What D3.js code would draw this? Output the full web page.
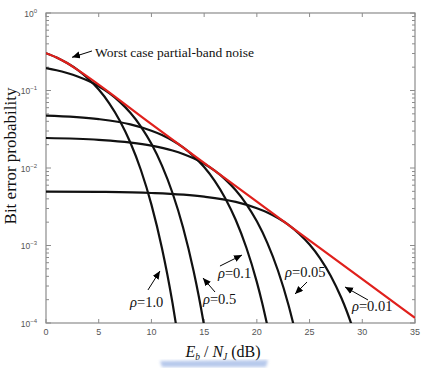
<!DOCTYPE html>
<html><head><meta charset="utf-8">
<script src="https://cdn.jsdelivr.net/npm/d3@7"></script>
<style>body{margin:0;background:#fff}svg{display:block}</style>
</head><body>
<svg id="c" width="423" height="368"></svg>
<script>
// ---- data (Eb/NJ in dB, bit error probability) ----
const xTicks = [0,5,10,15,20,25,30,35];
const yTickExps = [0,-1,-2,-3,-4];
const worstCase = [[0,0.303],[1,0.267],[2,0.226],[3,0.1845],[10,0.0368],[20,0.00368],[30,0.000368],[35,0.0001163]];
const rho10  = [[0,0.303],[1,0.267],[2,0.226],[3,0.1845],[4,0.142],[5,0.1028],[6,0.0684],[7,0.0408],[8,0.0213],[9,0.00942],[10,0.00337],[11,0.000923],[11.5,0.000428],[12,0.000181],[12.5,0.000069]];
const rho05  = [[0,0.1947],[1,0.1825],[2,0.168],[3,0.1518],[4,0.1334],[5,0.1135],[6,0.0924],[7,0.0714],[8,0.0516],[9,0.0343],[10,0.0205],[11,0.01075],[12,0.00476],[13,0.00171],[14,0.000469],[14.5,0.000218],[15,0.000092],[15.2,0.0000635]];
const rho01  = [[0,0.0475],[5,0.0427],[8,0.0365],[10,0.0303],[11,0.0267],[12,0.0226],[13,0.01845],[14,0.01423],[15,0.01028],[16,0.00683],[17,0.00408],[18,0.00213],[19,0.000942],[20,0.000337],[20.5,0.000183],[21,0.000092]];
const rho005 = [[0,0.0244],[5,0.0231],[10,0.01947],[12,0.01682],[13,0.0152],[14,0.01334],[15,0.01135],[16,0.00924],[17,0.00714],[18,0.00516],[19,0.00343],[20,0.00205],[21,0.001075],[22,0.000476],[23,0.000171],[23.5,0.0000927]];
const rho001 = [[0,0.00497],[5,0.00492],[10,0.00476],[15,0.00427],[18,0.00365],[20,0.00303],[21,0.00267],[22,0.00226],[23,0.001845],[24,0.00142],[25,0.00103],[26,0.000683],[27,0.000408],[28,0.000213],[28.5,0.000145],[29,0.000094]];
const rhoLabels = ["1.0","0.5","0.1","0.05","0.01"];
// annotation anchors in data units: [textX, textLog10Y, tailX, tailLog, headX, headLog]
const rhoAnno = [[7.97,-3.79,9.67,-3.574,10.81,-3.329],[14.89,-3.755,16.03,-3.6,14.89,-3.419],[16.31,-3.42,16.5,-3.265,18.59,-3.123],[22.67,-3.406,24.76,-3.471,23.62,-3.626],[29.02,-3.845,30.54,-3.703,28.36,-3.535]];
const worstAnno = [4.65,-0.57,4.36,-0.49,2.47,-0.572];

const svg = d3.select("#c");
const L=46, R=415, T=13, B=323;
const x = d3.scaleLinear().domain([0,35]).range([L,R]);
const y = d3.scaleLog().domain([1e-4,1]).range([B,T]);
const axisCol = "#8c8c8c";

// defs
const defs = svg.append("defs");
defs.append("clipPath").attr("id","clip").append("rect").attr("x",L).attr("y",T).attr("width",R-L).attr("height",B-T);
defs.append("marker").attr("id","ah").attr("markerUnits","userSpaceOnUse").attr("markerWidth",9).attr("markerHeight",8)
  .attr("refX",8).attr("refY",3.5).attr("orient","auto")
  .append("path").attr("d","M0,0 L8,3.5 L0,7 Z").attr("fill","#000");
defs.append("filter").attr("id","blur").append("feGaussianBlur").attr("stdDeviation",1.6);

// frame
svg.append("rect").attr("x",L).attr("y",T).attr("width",R-L).attr("height",B-T)
  .attr("fill","none").attr("stroke",axisCol).attr("stroke-width",1.2);

// ticks
const g = svg.append("g").attr("stroke",axisCol).attr("stroke-width",1);
xTicks.forEach(t=>{
  g.append("line").attr("x1",x(t)).attr("x2",x(t)).attr("y1",B).attr("y2",B-4);
  g.append("line").attr("x1",x(t)).attr("x2",x(t)).attr("y1",T).attr("y2",T+4);
});
for (let e=-4;e<0;e++){
  for (let m=2;m<=9;m++){
    const yy=y(m*Math.pow(10,e));
    g.append("line").attr("x1",L).attr("x2",L+3).attr("y1",yy).attr("y2",yy);
    g.append("line").attr("x1",R).attr("x2",R-3).attr("y1",yy).attr("y2",yy);
  }
}
yTickExps.forEach(e=>{
  const yy=y(Math.pow(10,e));
  g.append("line").attr("x1",L).attr("x2",L+5).attr("y1",yy).attr("y2",yy);
  g.append("line").attr("x1",R).attr("x2",R-5).attr("y1",yy).attr("y2",yy);
});

// tick labels
svg.append("g").selectAll("text").data(xTicks).join("text")
  .attr("x",d=>x(d)).attr("y",B+12).attr("text-anchor","middle")
  .attr("font-family","Liberation Sans, Arial, sans-serif").attr("font-size",9).attr("fill","#555")
  .text(d=>d);
const yl = svg.append("g").selectAll("text").data(yTickExps).join("text")
  .attr("x",L-9).attr("y",d=>y(Math.pow(10,d))+3.5).attr("text-anchor","end")
  .attr("font-family","Liberation Sans, Arial, sans-serif").attr("font-size",8.5).attr("fill","#555");
yl.append("tspan").text("10");
yl.append("tspan").attr("dy",-4).attr("font-size",6).text(d=>d===0?"0":"\u2212"+(-d));

// curves
const line = d3.line().x(d=>x(d[0])).y(d=>y(d[1])).curve(d3.curveMonotoneX);
const pg = svg.append("g").attr("clip-path","url(#clip)");
[rho10,rho05,rho01,rho005,rho001].forEach(s=>{
  pg.append("path").datum(s).attr("d",line).attr("fill","none").attr("stroke","#111").attr("stroke-width",2.2);
});
pg.append("path").datum(worstCase).attr("d",line).attr("fill","none").attr("stroke","#e0201c").attr("stroke-width",2.2);

// annotations
const serif = "Liberation Serif, Times New Roman, serif";
function arrow(x1,l1,x2,l2){
  svg.append("line").attr("x1",x(x1)).attr("y1",y(Math.pow(10,l1))).attr("x2",x(x2)).attr("y2",y(Math.pow(10,l2)))
    .attr("stroke","#000").attr("stroke-width",1).attr("marker-end","url(#ah)");
}
arrow(worstAnno[2],worstAnno[3],worstAnno[4],worstAnno[5]);
svg.append("text").attr("x",x(worstAnno[0])).attr("y",y(Math.pow(10,worstAnno[1])))
  .attr("font-family",serif).attr("font-size",13.5).attr("fill","#111").text("Worst case partial-band noise");
rhoAnno.forEach((a,i)=>{
  arrow(a[2],a[3],a[4],a[5]);
  const t = svg.append("text").attr("x",x(a[0])).attr("y",y(Math.pow(10,a[1])))
    .attr("font-family",serif).attr("font-size",14.5).attr("fill","#111");
  t.append("tspan").attr("font-style","italic").text("\u03C1");
  t.append("tspan").text("="+rhoLabels[i]);
});

// axis titles
const xt = svg.append("text").attr("x",223).attr("y",357).attr("text-anchor","middle")
  .attr("font-family",serif).attr("font-size",16).attr("fill","#111");
xt.append("tspan").attr("font-style","italic").text("E");
xt.append("tspan").attr("font-size",9.5).attr("dy",3).attr("font-style","italic").text("b");
xt.append("tspan").attr("dy",-3).text(" / ");
xt.append("tspan").attr("font-style","italic").text("N");
xt.append("tspan").attr("font-size",9.5).attr("dy",3).attr("font-style","italic").text("J");
xt.append("tspan").attr("dy",-3).text("  (dB)");

svg.append("text").attr("transform","translate(16,156) rotate(-90)").attr("text-anchor","middle")
  .attr("font-family",serif).attr("font-size",17).attr("fill","#111").text("Bit error probability");

// faint watermark band at the bottom
svg.append("path").attr("d","M160,361 L268,360 L266,367 L162,367 Z")
  .attr("fill","#7d9ddc").attr("opacity",0.55).attr("filter","url(#blur)");
</script>
</body></html>
